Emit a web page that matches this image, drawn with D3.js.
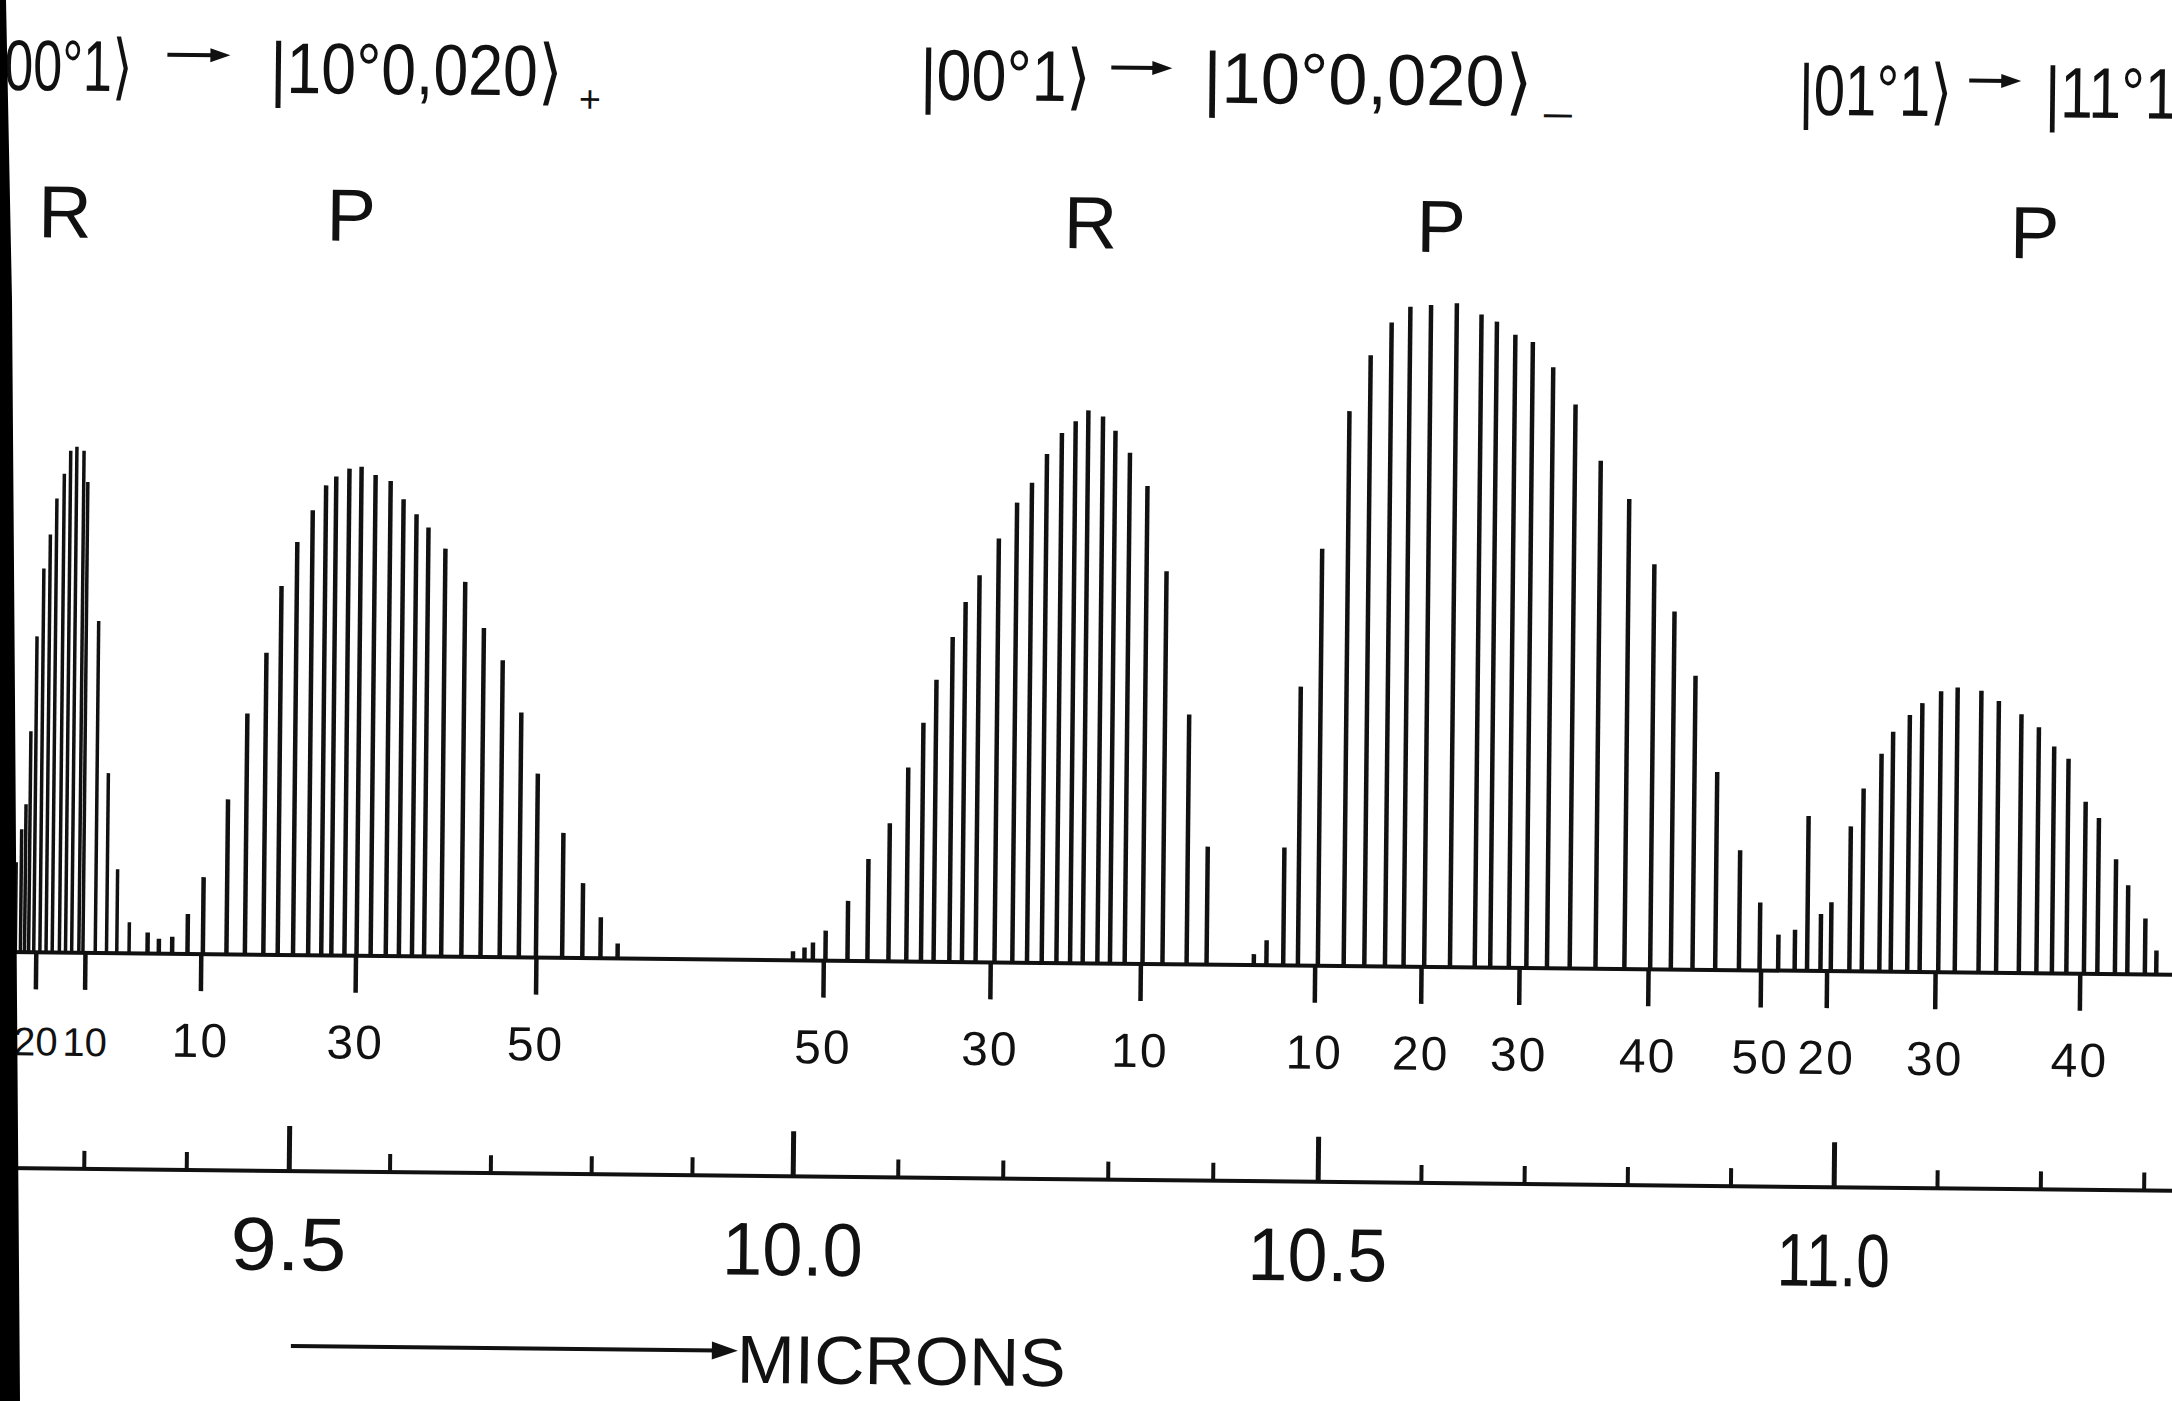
<!DOCTYPE html>
<html>
<head>
<meta charset="utf-8">
<script src="https://cdn.jsdelivr.net/npm/d3@7"></script>
<style>
  html, body { margin: 0; padding: 0; background: #fff; }
  svg { display: block; }
  text { font-family: 'Liberation Sans', Arial, sans-serif; fill: #111; }
</style>
</head>
<body>
<svg id="chart"></svg>
<script>
'use strict'

// laser line wavelengths (microns) and relative gain (arb. units)

// 00°1 -> [10°0,02°0]+  (9.4 um band), R branch
const r94Lambda = [9.231, 9.236, 9.240, 9.244, 9.249, 9.255, 9.261, 9.267, 9.274, 9.280,
  9.286, 9.293, 9.297, 9.309, 9.320, 9.330, 9.342]
const r94Gain = [90, 123, 148, 221, 316, 384, 418, 454, 479, 502,
  506, 502, 471, 332, 180, 84, 31]

// 9.4 um band, P branch
const p94Lambda = [9.360, 9.371, 9.384, 9.399, 9.414, 9.437, 9.455, 9.473, 9.487, 9.502,
  9.517, 9.530, 9.540, 9.553, 9.565, 9.579, 9.594, 9.607, 9.620, 9.632,
  9.649, 9.669, 9.688, 9.707, 9.726, 9.743, 9.769, 9.789, 9.807, 9.824]
const p94Gain = [21, 15, 17, 40, 77, 155, 241, 302, 369, 413,
  445, 470, 479, 487, 489, 481, 475, 457, 442, 429,
  408, 375, 329, 297, 245, 184, 125, 75, 41, 15]

// 00°1 -> [10°0,02°0]-  (10.4 um band), R branch
const r104Lambda = [9.998, 10.009, 10.017, 10.029, 10.050, 10.069, 10.089, 10.106, 10.120, 10.132,
  10.147, 10.159, 10.172, 10.190, 10.207, 10.221, 10.235, 10.249, 10.262, 10.274,
  10.288, 10.300, 10.314, 10.331, 10.350, 10.373, 10.392]
const r104Gain = [9, 13, 18, 30, 60, 102, 138, 194, 239, 282,
  325, 360, 387, 424, 460, 480, 509, 530, 542, 553,
  547, 533, 511, 478, 393, 250, 118]

// 10.4 um band, P branch
const p104Lambda = [10.437, 10.449, 10.465, 10.479, 10.498, 10.523, 10.543, 10.563, 10.581, 10.601,
  10.626, 10.650, 10.665, 10.683, 10.700, 10.720, 10.742, 10.767, 10.795, 10.820,
  10.840, 10.861, 10.883, 10.906, 10.926, 10.944, 10.960]
const p104Gain = [11, 25, 118, 279, 417, 555, 611, 644, 660, 662,
  664, 653, 646, 633, 626, 601, 564, 508, 470, 405,
  358, 294, 198, 120, 68, 36, 41]

// 01°1 -> 11°1 hot band, P branch
const pHotLambda = [10.972, 10.985, 10.995, 11.013, 11.025, 11.042, 11.053, 11.069, 11.081, 11.099,
  11.115, 11.138, 11.155, 11.177, 11.194, 11.209, 11.223, 11.240, 11.253, 11.270,
  11.282, 11.299, 11.310]
const pHotGain = [155, 57, 69, 145, 183, 218, 240, 257, 269, 281,
  285, 282, 272, 259, 246, 227, 215, 172, 156, 115,
  89, 56, 24]

// rotational J labels under the lines
const r94TickJ = [20, 10]
const r94TickLambda = [9.251, 9.299]
const p94TickJ = [10, 30, 50]
const p94TickLambda = [9.412, 9.564, 9.743]
const r104TickJ = [50, 30, 10]
const r104TickLambda = [10.027, 10.186, 10.329]
const p104TickJ = [10, 20, 30, 40, 50]
const p104TickLambda = [10.495, 10.598, 10.693, 10.818, 10.927]
const pHotTickJ = [20, 30, 40]
const pHotTickLambda = [10.991, 11.096, 11.236]

// branch letters
const branchNames = ['R', 'P', 'R', 'P', 'P']
const branchLambda = [9.272, 9.552, 10.274, 10.610, 11.185]

// micron axis
const micronMajor = [9.5, 10.0, 10.5, 11.0]


const W = 2172
const H = 1401
const ink = '#111'
const baseY = 952      // line baseline
const axisY = 1168     // micron scale line
const tilt = 0.6       // the scan is slightly rotated

const svg = d3.select('#chart').attr('width', W).attr('height', H)
svg.append('rect').attr('width', W).attr('height', H).attr('fill', '#fff')

const g = svg.append('g').attr('transform', 'rotate(' + tilt + ',0,' + baseY + ')')

// the printed scale is not perfectly linear, so anchor it on each labelled tick
const x = d3.scaleLinear()
  .domain([9.3, 9.5, 10.0, 10.5, 11.0, 11.3])
  .range([86, 291, 795, 1320, 1836, 2146])

const y = d3.scaleLinear().domain([0, 664]).range([baseY, baseY - 664])

// baseline
g.append('line')
  .attr('x1', 8).attr('x2', 2220)
  .attr('y1', baseY).attr('y2', baseY)
  .attr('stroke', ink).attr('stroke-width', 4)

// spectral lines
const bands = [
  { lam: r94Lambda, gain: r94Gain, w: 3.5 },
  { lam: p94Lambda, gain: p94Gain, w: 4.5 },
  { lam: r104Lambda, gain: r104Gain, w: 4.5 },
  { lam: p104Lambda, gain: p104Gain, w: 4.5 },
  { lam: pHotLambda, gain: pHotGain, w: 4.5 }
]

bands.forEach(band => {
  g.append('g')
    .selectAll('line')
    .data(d3.zip(band.lam, band.gain))
    .join('line')
    .attr('x1', d => x(d[0]))
    .attr('x2', d => x(d[0]))
    .attr('y1', y(0) + 1)
    .attr('y2', d => y(d[1]))
    .attr('stroke', ink)
    .attr('stroke-width', band.w)
})

// J number ticks below the baseline (the crowded R pair is lettered smaller)
const jScales = [
  { lam: r94TickLambda, j: r94TickJ, size: 40, spacing: 0 },
  { lam: p94TickLambda, j: p94TickJ, size: 48, spacing: 2 },
  { lam: r104TickLambda, j: r104TickJ, size: 48, spacing: 2 },
  { lam: p104TickLambda, j: p104TickJ, size: 48, spacing: 2 },
  { lam: pHotTickLambda, j: pHotTickJ, size: 48, spacing: 2 }
]

jScales.forEach(t => {
  const axis = d3.axisBottom(x)
    .tickValues(t.lam)
    .tickFormat((d, i) => t.j[i])
    .tickSize(37)

  const a = g.append('g')
    .attr('transform', 'translate(0,' + baseY + ')')
    .call(axis)
  a.select('.domain').remove()
  a.selectAll('.tick line').attr('stroke', ink).attr('stroke-width', 4.5)
  a.selectAll('.tick text')
    .attr('y', 103)
    .attr('dy', 0)
    .attr('font-size', t.size)
    .attr('letter-spacing', t.spacing)
})

// branch letters
g.append('g')
  .selectAll('text')
  .data(d3.zip(branchNames, branchLambda))
  .join('text')
  .attr('x', d => x(d[1]))
  .attr('y', 237)
  .attr('text-anchor', 'middle')
  .attr('font-size', 74)
  .text(d => d[0])

// micron scale
g.append('line')
  .attr('x1', 8).attr('x2', 2220)
  .attr('y1', axisY).attr('y2', axisY)
  .attr('stroke', ink).attr('stroke-width', 4)

const micronMinor = d3.range(93, 114).map(d => d / 10).filter(d => !micronMajor.includes(d))

const minorAxis = g.append('g')
  .attr('transform', 'translate(0,' + axisY + ')')
  .call(d3.axisBottom(x).tickValues(micronMinor).tickFormat('').tickSize(-18))
minorAxis.select('.domain').remove()
minorAxis.selectAll('.tick line').attr('stroke', ink).attr('stroke-width', 4)

const labelWidth = { '9.5': 116, '10.0': 141, '10.5': 140, '11.0': 113 }

const majorAxis = g.append('g')
  .attr('transform', 'translate(0,' + axisY + ')')
  .call(d3.axisBottom(x).tickValues(micronMajor).tickFormat(d3.format('.1f')).tickSize(-45))
majorAxis.select('.domain').remove()
majorAxis.selectAll('.tick line').attr('stroke', ink).attr('stroke-width', 5)
majorAxis.selectAll('.tick text')
  .attr('y', 99)
  .attr('dy', 0)
  .attr('font-size', 75)
  .attr('textLength', d => labelWidth[d3.format('.1f')(d)])
  .attr('lengthAdjust', 'spacingAndGlyphs')

// arrow + MICRONS
g.append('line')
  .attr('x1', 295).attr('x2', 722)
  .attr('y1', 1343).attr('y2', 1343)
  .attr('stroke', ink).attr('stroke-width', 4)
g.append('path')
  .attr('d', 'M716,1334 L742,1343 L716,1352 Z')
  .attr('fill', ink)
g.append('text')
  .attr('x', 741).attr('y', 1375)
  .attr('font-size', 68)
  .attr('textLength', 329)
  .attr('lengthAdjust', 'spacingAndGlyphs')
  .text('MICRONS')

// transition titles
const titles = [
  { t: '00°1⟩', x: -5, y: 90, len: 128, size: 72 },
  { t: '|10°0,020⟩', x: 261, y: 90, len: 292, size: 72 },
  { t: '+', x: 570, y: 106, len: 22, size: 38 },
  { t: '|00°1⟩', x: 911, y: 90, len: 171, size: 72 },
  { t: '|10°0,020⟩', x: 1194, y: 90, len: 329, size: 72 },
  { t: '–', x: 1535, y: 111, len: 28, size: 44 },
  { t: '|01°1⟩', x: 1790, y: 96, len: 153, size: 72 },
  { t: '|11°1⟩', x: 2036, y: 96, len: 155, size: 72 }
]

g.append('g')
  .selectAll('text')
  .data(titles)
  .join('text')
  .attr('x', d => d.x)
  .attr('y', d => d.y)
  .attr('font-size', d => d.size)
  .attr('textLength', d => d.len)
  .attr('lengthAdjust', 'spacingAndGlyphs')
  .text(d => d.t)

// transition arrows between the kets, drawn like the stencil arrows
const arrows = [
  { x: 158, y: 53, len: 63 },
  { x: 1102, y: 56, len: 61 },
  { x: 1960, y: 60, len: 52 }
]

const arrowG = g.append('g')
arrowG.selectAll('line')
  .data(arrows)
  .join('line')
  .attr('x1', d => d.x)
  .attr('x2', d => d.x + d.len - 14)
  .attr('y1', d => d.y)
  .attr('y2', d => d.y)
  .attr('stroke', ink)
  .attr('stroke-width', 4)
arrowG.selectAll('path')
  .data(arrows)
  .join('path')
  .attr('d', d => {
    const e = d.x + d.len
    return 'M' + (e - 20) + ',' + (d.y - 7) + ' L' + e + ',' + d.y + ' L' + (e - 20) + ',' + (d.y + 7) + ' Z'
  })
  .attr('fill', ink)

// dark scan edge on the left
svg.append('path')
  .attr('d', 'M0,0 L6,0 L12,300 L15,700 L17,1000 L20,1401 L0,1401 Z')
  .attr('fill', '#000')
</script>
</body>
</html>
